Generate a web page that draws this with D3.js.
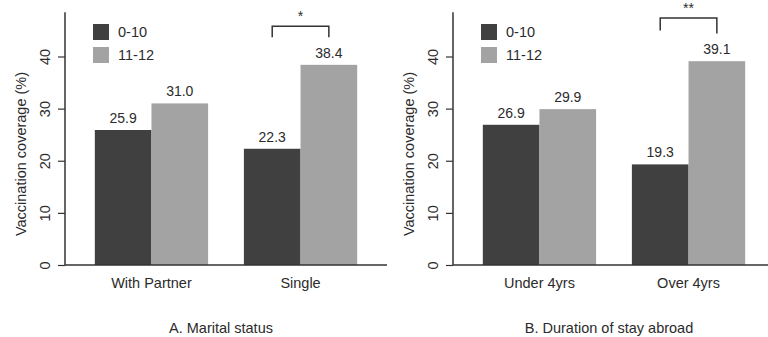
<!DOCTYPE html>
<html>
<head>
<meta charset="utf-8">
<script src="https://cdn.jsdelivr.net/npm/d3@7"></script>
<style>
  body { margin: 0; background: #fff; }
  svg text { font-family: "Liberation Sans", Arial, sans-serif; fill: #2b2b2b; }
</style>
</head>
<body>
<script>
var W = 768, H = 337;

// data
var groups = ["0-10", "11-12"];
var catsA = ["With Partner", "Single"];
var catsB = ["Under 4yrs", "Over 4yrs"];
var valuesA = [[25.9, 31.0], [22.3, 38.4]];
var valuesB = [[26.9, 29.9], [19.3, 39.1]];
var yTicks = [0, 10, 20, 30, 40];
var sigLabels = ["*", "**"];
var sigCats = ["Single", "Over 4yrs"];
var sigTop = [45.8, 47.4];
var sigLegs = [[43.7, 43.7], [45.0, 44.4]];
var titles = ["A. Marital status", "B. Duration of stay abroad"];

var colors = ["#404040", "#a3a3a3"];

var svg = d3.select("body").append("svg")
    .attr("width", W)
    .attr("height", H);

function drawPanel(ox, cats, vals, sigLabel, sigCat, top, legs, title) {
  var g = svg.append("g").attr("transform", "translate(" + ox + ",0)");

  var y = d3.scaleLinear().domain([0, 40]).range([265, 56.5]);
  var x0 = d3.scaleBand().domain(cats).range([65, 387])
      .paddingInner(0.24).paddingOuter(0.2);
  var x1 = d3.scaleBand().domain(groups).range([0, x0.bandwidth()]);

  // bars
  var cat = g.selectAll("g.cat").data(cats).enter().append("g")
      .attr("class", "cat")
      .attr("transform", function(d) { return "translate(" + x0(d) + ",0)"; });

  cat.selectAll("rect").data(function(d, i) { return vals[i]; }).enter().append("rect")
      .attr("x", function(d, j) { return x1(groups[j]); })
      .attr("width", x1.bandwidth())
      .attr("y", function(d) { return y(d); })
      .attr("height", function(d) { return y(0) - y(d); })
      .style("fill", function(d, j) { return colors[j]; });

  cat.selectAll("text.val").data(function(d, i) { return vals[i]; }).enter().append("text")
      .attr("class", "val")
      .attr("x", function(d, j) { return x1(groups[j]) + x1.bandwidth() / 2; })
      .attr("y", function(d) { return y(d) - 7; })
      .attr("text-anchor", "middle")
      .style("font-size", "14px")
      .text(function(d) { return d.toFixed(1); });

  // y axis
  var yAxis = g.append("g")
      .attr("transform", "translate(65,0)")
      .call(d3.axisLeft(y).tickValues(yTicks).tickSize(7).tickPadding(0));
  yAxis.select(".domain").remove();
  yAxis.selectAll(".tick line").style("stroke", "#333").style("stroke-width", 1.2);
  yAxis.selectAll(".tick text")
      .attr("x", -15)
      .attr("dy", null)
      .attr("transform", function() { return "rotate(-90," + (-15) + ",0)"; })
      .attr("text-anchor", "middle")
      .style("font-size", "14.5px")
      .style("font-family", "Liberation Sans, Arial, sans-serif")
      .style("fill", "#2b2b2b");
  // rotate around the tick: set x to 0 after rotation
  yAxis.selectAll(".tick text")
      .attr("x", 0)
      .attr("y", 0)
      .attr("transform", "translate(-15,0) rotate(-90)");

  g.append("line")
      .attr("x1", 65).attr("x2", 65)
      .attr("y1", y(48.5)).attr("y2", y(0))
      .style("stroke", "#333").style("stroke-width", 1.5);
  g.append("line")
      .attr("x1", 65).attr("x2", 387)
      .attr("y1", y(0)).attr("y2", y(0))
      .style("stroke", "#333").style("stroke-width", 1.5);

  g.append("text")
      .attr("transform", "translate(26,154) rotate(-90)")
      .attr("text-anchor", "middle")
      .style("font-size", "14.5px")
      .text("Vaccination coverage (%)");

  // category labels
  g.selectAll("text.cat").data(cats).enter().append("text")
      .attr("class", "cat")
      .attr("x", function(d) { return x0(d) + x0.bandwidth() / 2; })
      .attr("y", 288)
      .attr("text-anchor", "middle")
      .style("font-size", "14.5px")
      .text(function(d) { return d; });

  // legend
  var leg = g.selectAll("g.leg").data(groups).enter().append("g")
      .attr("class", "leg")
      .attr("transform", function(d, i) { return "translate(93," + (24 + i * 23) + ")"; });
  leg.append("rect").attr("width", 16).attr("height", 16)
      .style("fill", function(d, i) { return colors[i]; });
  leg.append("text").attr("x", 25).attr("y", 13)
      .style("font-size", "14.5px")
      .text(function(d) { return d; });

  // significance bracket
  var bx = x0(sigCat);
  var xa = bx + x1(groups[0]) + x1.bandwidth() / 2,
      xb = bx + x1(groups[1]) + x1.bandwidth() / 2;
  g.append("path")
      .attr("d", "M" + xa + "," + y(legs[0]) + "V" + y(top) + "H" + xb + "V" + y(legs[1]))
      .style("fill", "none").style("stroke", "#333").style("stroke-width", 1.5);
  g.append("text")
      .attr("x", (xa + xb) / 2)
      .attr("y", y(top) - 5)
      .attr("text-anchor", "middle")
      .style("font-size", "14px")
      .text(sigLabel);

  g.append("text")
      .attr("x", 221)
      .attr("y", 333)
      .attr("text-anchor", "middle")
      .style("font-size", "14.5px")
      .text(title);
}

drawPanel(0, catsA, valuesA, sigLabels[0], sigCats[0], sigTop[0], sigLegs[0], titles[0]);
drawPanel(388, catsB, valuesB, sigLabels[1], sigCats[1], sigTop[1], sigLegs[1], titles[1]);
</script>
</body>
</html>
